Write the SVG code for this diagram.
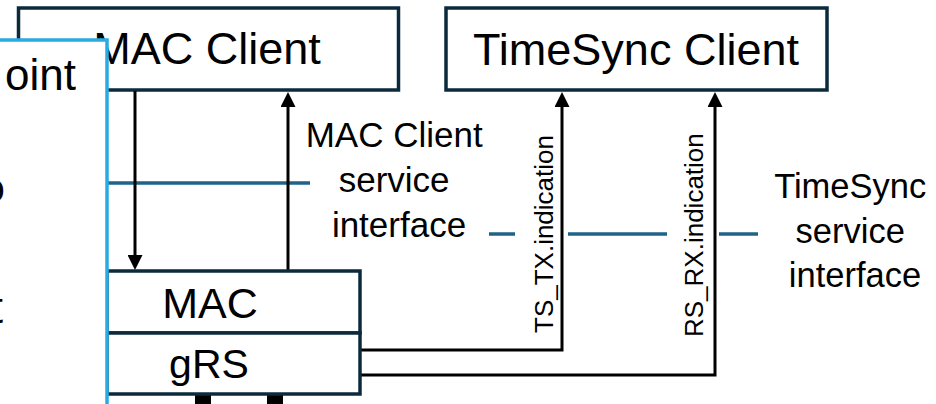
<svg xmlns="http://www.w3.org/2000/svg" width="936" height="404" viewBox="0 0 936 404">
  <defs>
    <style>
      .lbl { font-family: "Liberation Sans", Arial, sans-serif; fill: #000; }
      .box { fill: #fff; stroke: #0b2a3c; stroke-width: 3.5; }
      .wire { fill: none; stroke: #000; stroke-width: 3; }
      .iface { fill: none; stroke: #1f6388; stroke-width: 3.5; }
    </style>
    <marker id="arrow" viewBox="0 0 10 10" refX="6.7" refY="5" markerWidth="15" markerHeight="15" markerUnits="userSpaceOnUse" orient="auto">
      <path d="M0,0 L10,5 L0,10 z" fill="#000"/>
    </marker>
  </defs>
  <rect width="936" height="404" fill="#fff"/>

  <!-- Upper client boxes -->
  <g id="mac-client">
    <rect class="box" x="18.5" y="8" width="380" height="82"/>
    <text class="lbl" x="207" y="64" font-size="45" text-anchor="middle">MAC Client</text>
  </g>
  <g id="timesync-client">
    <rect class="box" x="446" y="8" width="381" height="82"/>
    <text class="lbl" x="636" y="65" font-size="45" text-anchor="middle">TimeSync Client</text>
  </g>

  <!-- Service interface boundary lines and primitives -->
  <g id="connectors">
    <line class="iface" x1="106" y1="183" x2="310" y2="183"/>
    <line class="iface" x1="489" y1="234" x2="515" y2="234"/>
    <line class="iface" x1="568" y1="234" x2="667" y2="234"/>
    <line class="iface" x1="719" y1="234" x2="758" y2="234"/>

    <line class="wire" x1="135" y1="91" x2="135" y2="265" marker-end="url(#arrow)"/>
    <line class="wire" x1="288" y1="270" x2="288" y2="97" marker-end="url(#arrow)"/>
    <polyline class="wire" points="360,350 562,350 562,97" marker-end="url(#arrow)"/>
    <polyline class="wire" points="360,375 715,375 715,97" marker-end="url(#arrow)"/>

    <rect x="195" y="394" width="16" height="12" fill="#000"/>
    <rect x="267" y="394" width="16" height="12" fill="#000"/>
  </g>

  <!-- Primitive labels -->
  <g id="ts-tx-label">
    <text class="lbl" font-size="26" transform="translate(553,333) rotate(-90)">TS_TX.indication</text>
  </g>
  <g id="rs-rx-label">
    <text class="lbl" font-size="26" transform="translate(703,337) rotate(-90)">RS_RX.indication</text>
  </g>

  <!-- Interface captions -->
  <g id="mac-client-interface">
    <text class="lbl" font-size="35" text-anchor="middle">
      <tspan x="399" y="147">MAC Client</tspan>
      <tspan x="399" y="192">service</tspan>
      <tspan x="399" y="237">interface</tspan>
    </text>
  </g>
  <g id="timesync-interface">
    <text class="lbl" font-size="34.5" text-anchor="middle">
      <tspan x="855" y="198">TimeSync</tspan>
      <tspan x="855" y="243">service</tspan>
      <tspan x="855" y="287">interface</tspan>
    </text>
  </g>

  <!-- MAC / gRS stack -->
  <g id="mac">
    <rect class="box" x="107" y="271" width="253" height="62"/>
    <text class="lbl" x="210" y="318" font-size="43" text-anchor="middle">MAC</text>
  </g>
  <g id="grs">
    <rect class="box" x="107" y="333" width="253" height="61"/>
    <text class="lbl" x="209" y="378" font-size="41" text-anchor="middle">gRS</text>
  </g>

  <!-- Overlapping side panel -->
  <g id="side-panel">
    <rect x="-10" y="40" width="117" height="380" fill="#fff" stroke="#29abe2" stroke-width="3.5"/>
    <text class="lbl" x="76" y="90" font-size="44" text-anchor="end">oint</text>
    <text class="lbl" x="5" y="203" font-size="44" font-weight="bold" text-anchor="end">o</text>
    <text class="lbl" x="3" y="323" font-size="44" text-anchor="end">t</text>
  </g>
</svg>
